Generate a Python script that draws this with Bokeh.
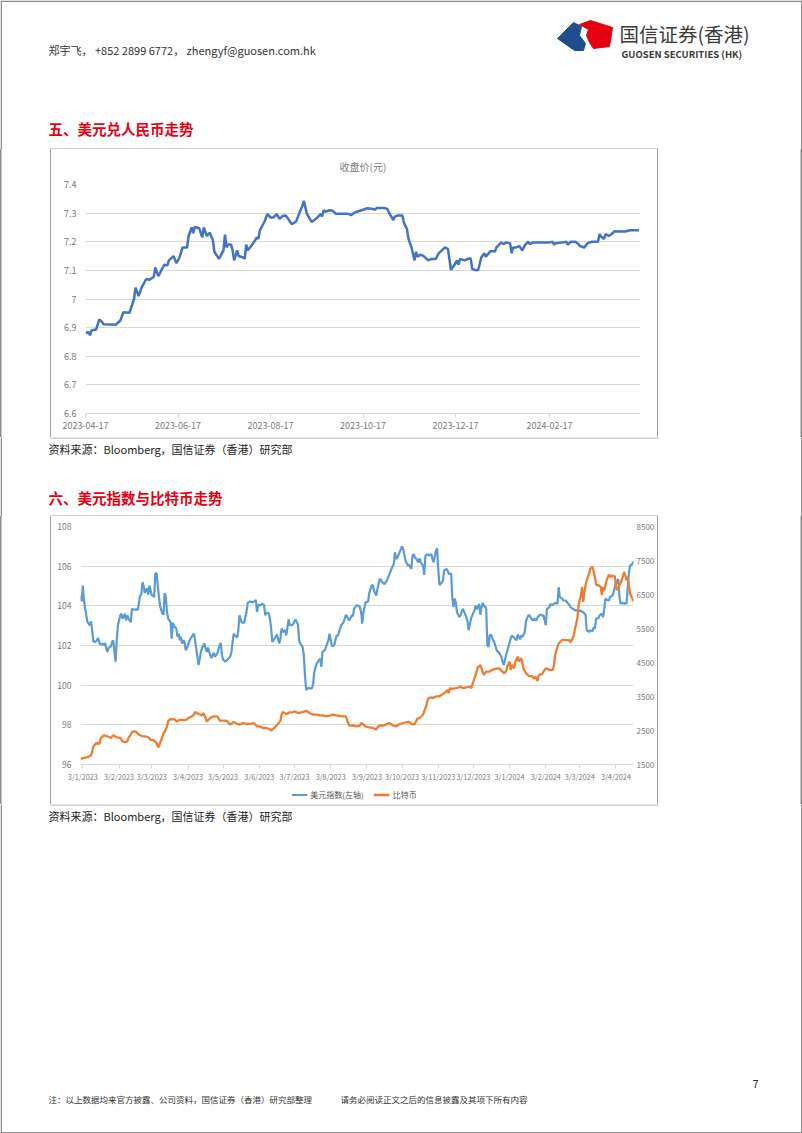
import pandas as pd
from datetime import datetime
from bokeh.plotting import figure
from bokeh.models import Range1d, FixedTicker, LinearAxis, Legend, LegendItem, Spacer
from bokeh.layouts import column, row
from bokeh.core.properties import value
from bokeh.embed import file_html
from bokeh.resources import INLINE

CJK = "Noto Sans CJK SC"

# ---------------- data: USD/CNY close ----------------
cny_dates = [
    "2023-04-17", "2023-04-19", "2023-04-20", "2023-04-21", "2023-04-23", "2023-04-24", "2023-04-26", "2023-04-27", "2023-04-29", "2023-05-07",
    "2023-05-10", "2023-05-12", "2023-05-16", "2023-05-19", "2023-05-20", "2023-05-22", "2023-05-24", "2023-05-27", "2023-05-29", "2023-06-01",
    "2023-06-02", "2023-06-04", "2023-06-06", "2023-06-08", "2023-06-10", "2023-06-11", "2023-06-14", "2023-06-16", "2023-06-18", "2023-06-20",
    "2023-06-23", "2023-06-24", "2023-06-26", "2023-06-27", "2023-06-28", "2023-07-01", "2023-07-03", "2023-07-04", "2023-07-06", "2023-07-08",
    "2023-07-10", "2023-07-11", "2023-07-14", "2023-07-17", "2023-07-18", "2023-07-19", "2023-07-20", "2023-07-22", "2023-07-23", "2023-07-24",
    "2023-07-26", "2023-07-27", "2023-07-30", "2023-07-31", "2023-08-01", "2023-08-02", "2023-08-05", "2023-08-08", "2023-08-09", "2023-08-10",
    "2023-08-13", "2023-08-15", "2023-08-17", "2023-08-19", "2023-08-21", "2023-08-23", "2023-08-25", "2023-08-27", "2023-08-28", "2023-08-31",
    "2023-09-01", "2023-09-03", "2023-09-05", "2023-09-07", "2023-09-08", "2023-09-09", "2023-09-10", "2023-09-13", "2023-09-14", "2023-09-17",
    "2023-09-19", "2023-09-20", "2023-09-21", "2023-09-22", "2023-09-25", "2023-09-27", "2023-09-29", "2023-10-05", "2023-10-08", "2023-10-09",
    "2023-10-12", "2023-10-16", "2023-10-20", "2023-10-23", "2023-10-25", "2023-10-26", "2023-10-31", "2023-11-02", "2023-11-03", "2023-11-05",
    "2023-11-06", "2023-11-07", "2023-11-09", "2023-11-12", "2023-11-13", "2023-11-15", "2023-11-16", "2023-11-18", "2023-11-20", "2023-11-21",
    "2023-11-22", "2023-11-24", "2023-11-26", "2023-11-29", "2023-12-01", "2023-12-04", "2023-12-06", "2023-12-08", "2023-12-10", "2023-12-12",
    "2023-12-14", "2023-12-16", "2023-12-18", "2023-12-19", "2023-12-20", "2023-12-23", "2023-12-25", "2023-12-27", "2023-12-28", "2023-12-31",
    "2024-01-01", "2024-01-03", "2024-01-05", "2024-01-06", "2024-01-08", "2024-01-09", "2024-01-12", "2024-01-13", "2024-01-16", "2024-01-18",
    "2024-01-19", "2024-01-22", "2024-01-23", "2024-01-24", "2024-01-26", "2024-01-28", "2024-01-30", "2024-02-01", "2024-02-03", "2024-02-04",
    "2024-02-06", "2024-02-11", "2024-02-16", "2024-02-19", "2024-02-20", "2024-02-21", "2024-02-25", "2024-02-28", "2024-02-29", "2024-03-02",
    "2024-03-05", "2024-03-07", "2024-03-08", "2024-03-11", "2024-03-13", "2024-03-16", "2024-03-20", "2024-03-21", "2024-03-22", "2024-03-24",
    "2024-03-25", "2024-03-27", "2024-03-29", "2024-03-31", "2024-04-04", "2024-04-07", "2024-04-10", "2024-04-16",
]
cny_close = [
    6.880, 6.885, 6.873, 6.890, 6.893, 6.893, 6.928, 6.925, 6.912, 6.910,
    6.925, 6.954, 6.952, 7.000, 7.040, 7.010, 7.040, 7.070, 7.067, 7.077,
    7.110, 7.080, 7.100, 7.120, 7.117, 7.135, 7.150, 7.125, 7.145, 7.180,
    7.180, 7.220, 7.250, 7.230, 7.252, 7.247, 7.215, 7.250, 7.220, 7.232,
    7.205, 7.165, 7.140, 7.170, 7.225, 7.180, 7.190, 7.190, 7.170, 7.135,
    7.170, 7.150, 7.145, 7.140, 7.190, 7.170, 7.190, 7.215, 7.210, 7.240,
    7.270, 7.297, 7.285, 7.285, 7.297, 7.280, 7.290, 7.292, 7.285, 7.262,
    7.264, 7.272, 7.300, 7.325, 7.343, 7.320, 7.297, 7.270, 7.272, 7.285,
    7.297, 7.288, 7.310, 7.305, 7.310, 7.308, 7.298, 7.298, 7.297, 7.293,
    7.303, 7.310, 7.317, 7.315, 7.312, 7.318, 7.318, 7.315, 7.303, 7.285,
    7.276, 7.288, 7.292, 7.292, 7.266, 7.244, 7.210, 7.180, 7.135, 7.165,
    7.148, 7.155, 7.150, 7.135, 7.140, 7.140, 7.160, 7.170, 7.180, 7.175,
    7.102, 7.117, 7.135, 7.120, 7.140, 7.135, 7.140, 7.142, 7.105, 7.100,
    7.102, 7.145, 7.160, 7.148, 7.160, 7.168, 7.166, 7.180, 7.197, 7.192,
    7.197, 7.195, 7.160, 7.180, 7.180, 7.185, 7.170, 7.190, 7.200, 7.192,
    7.197, 7.197, 7.197, 7.200, 7.190, 7.195, 7.197, 7.200, 7.190, 7.200,
    7.200, 7.192, 7.185, 7.180, 7.195, 7.200, 7.200, 7.227, 7.218, 7.210,
    7.227, 7.220, 7.227, 7.237, 7.236, 7.236, 7.240, 7.240,
]
cny_tick_dates = ["2023-04-17", "2023-06-17", "2023-08-17", "2023-10-17", "2023-12-17", "2024-02-17"]
cny_tick_labels = ["2023-04-17", "2023-06-17", "2023-08-17", "2023-10-17", "2023-12-17", "2024-02-17"]
cny_y_ticks = [6.6, 6.7, 6.8, 6.9, 7.0, 7.1, 7.2, 7.3, 7.4]
cny_y_labels = ["6.6", "6.7", "6.8", "6.9", "7", "7.1", "7.2", "7.3", "7.4"]

# ---------------- data: US dollar index ----------------
dxy_dates = [
    "2023-01-01", "2023-01-02", "2023-01-03", "2023-01-04", "2023-01-05", "2023-01-06", "2023-01-07", "2023-01-09", "2023-01-10", "2023-01-11",
    "2023-01-12", "2023-01-14", "2023-01-15", "2023-01-16", "2023-01-17", "2023-01-18", "2023-01-20", "2023-01-21", "2023-01-22", "2023-01-23",
    "2023-01-24", "2023-01-25", "2023-01-27", "2023-01-28", "2023-01-29", "2023-01-31", "2023-02-01", "2023-02-02", "2023-02-04", "2023-02-05",
    "2023-02-06", "2023-02-08", "2023-02-09", "2023-02-10", "2023-02-11", "2023-02-13", "2023-02-14", "2023-02-16", "2023-02-18", "2023-02-19",
    "2023-02-21", "2023-02-22", "2023-02-23", "2023-02-24", "2023-02-25", "2023-02-27", "2023-02-28", "2023-03-01", "2023-03-03", "2023-03-04",
    "2023-03-05", "2023-03-06", "2023-03-07", "2023-03-09", "2023-03-10", "2023-03-12", "2023-03-13", "2023-03-14", "2023-03-15", "2023-03-16",
    "2023-03-17", "2023-03-19", "2023-03-20", "2023-03-21", "2023-03-22", "2023-03-24", "2023-03-25", "2023-03-26", "2023-03-27", "2023-03-28",
    "2023-03-29", "2023-03-30", "2023-03-31", "2023-04-01", "2023-04-03", "2023-04-04", "2023-04-05", "2023-04-08", "2023-04-09", "2023-04-11",
    "2023-04-12", "2023-04-14", "2023-04-15", "2023-04-17", "2023-04-18", "2023-04-19", "2023-04-20", "2023-04-22", "2023-04-23", "2023-04-25",
    "2023-04-26", "2023-04-28", "2023-04-30", "2023-05-01", "2023-05-02", "2023-05-03", "2023-05-05", "2023-05-07", "2023-05-09", "2023-05-10",
    "2023-05-12", "2023-05-13", "2023-05-15", "2023-05-16", "2023-05-17", "2023-05-19", "2023-05-21", "2023-05-23", "2023-05-24", "2023-05-26",
    "2023-05-28", "2023-05-30", "2023-05-31", "2023-06-01", "2023-06-02", "2023-06-04", "2023-06-05", "2023-06-07", "2023-06-08", "2023-06-09",
    "2023-06-11", "2023-06-12", "2023-06-13", "2023-06-14", "2023-06-15", "2023-06-17", "2023-06-18", "2023-06-20", "2023-06-21", "2023-06-22",
    "2023-06-23", "2023-06-25", "2023-06-26", "2023-06-28", "2023-06-29", "2023-07-01", "2023-07-02", "2023-07-04", "2023-07-06", "2023-07-07",
    "2023-07-08", "2023-07-10", "2023-07-11", "2023-07-12", "2023-07-13", "2023-07-15", "2023-07-16", "2023-07-18", "2023-07-19", "2023-07-20",
    "2023-07-22", "2023-07-24", "2023-07-25", "2023-07-26", "2023-07-27", "2023-07-29", "2023-07-30", "2023-08-01", "2023-08-02", "2023-08-04",
    "2023-08-05", "2023-08-06", "2023-08-08", "2023-08-09", "2023-08-11", "2023-08-12", "2023-08-14", "2023-08-15", "2023-08-16", "2023-08-18",
    "2023-08-19", "2023-08-21", "2023-08-22", "2023-08-23", "2023-08-25", "2023-08-26", "2023-08-28", "2023-08-29", "2023-08-30", "2023-08-31",
    "2023-09-02", "2023-09-04", "2023-09-05", "2023-09-07", "2023-09-08", "2023-09-09", "2023-09-11", "2023-09-12", "2023-09-14", "2023-09-15",
    "2023-09-16", "2023-09-18", "2023-09-20", "2023-09-22", "2023-09-24", "2023-09-26", "2023-09-27", "2023-09-28", "2023-09-29", "2023-10-01",
    "2023-10-02", "2023-10-03", "2023-10-04", "2023-10-06", "2023-10-08", "2023-10-09", "2023-10-11", "2023-10-12", "2023-10-13", "2023-10-14",
    "2023-10-15", "2023-10-17", "2023-10-18", "2023-10-19", "2023-10-21", "2023-10-22", "2023-10-23", "2023-10-25", "2023-10-26", "2023-10-28",
    "2023-10-29", "2023-10-30", "2023-10-31", "2023-11-01", "2023-11-02", "2023-11-03", "2023-11-04", "2023-11-05", "2023-11-07", "2023-11-08",
    "2023-11-10", "2023-11-11", "2023-11-12", "2023-11-14", "2023-11-15", "2023-11-16", "2023-11-17", "2023-11-18", "2023-11-19", "2023-11-21",
    "2023-11-22", "2023-11-24", "2023-11-25", "2023-11-27", "2023-11-28", "2023-11-29", "2023-12-01", "2023-12-02", "2023-12-04", "2023-12-05",
    "2023-12-06", "2023-12-08", "2023-12-09", "2023-12-10", "2023-12-11", "2023-12-12", "2023-12-14", "2023-12-15", "2023-12-16", "2023-12-17",
    "2023-12-18", "2023-12-20", "2023-12-21", "2023-12-23", "2023-12-24", "2023-12-25", "2023-12-27", "2023-12-28", "2023-12-29", "2023-12-31",
    "2024-01-02", "2024-01-04", "2024-01-05", "2024-01-07", "2024-01-09", "2024-01-10", "2024-01-12", "2024-01-13", "2024-01-14", "2024-01-16",
    "2024-01-17", "2024-01-19", "2024-01-20", "2024-01-22", "2024-01-23", "2024-01-24", "2024-01-26", "2024-01-27", "2024-01-29", "2024-01-30",
    "2024-01-31", "2024-02-01", "2024-02-03", "2024-02-04", "2024-02-06", "2024-02-07", "2024-02-08", "2024-02-10", "2024-02-11", "2024-02-13",
    "2024-02-14", "2024-02-15", "2024-02-17", "2024-02-18", "2024-02-20", "2024-02-21", "2024-02-23", "2024-02-24", "2024-02-25", "2024-02-27",
    "2024-02-28", "2024-03-01", "2024-03-02", "2024-03-04", "2024-03-05", "2024-03-06", "2024-03-08", "2024-03-09", "2024-03-11", "2024-03-12",
    "2024-03-14", "2024-03-15", "2024-03-16", "2024-03-17", "2024-03-19", "2024-03-20", "2024-03-22", "2024-03-23", "2024-03-24", "2024-03-25",
    "2024-03-26", "2024-03-28", "2024-03-29", "2024-03-31", "2024-04-01", "2024-04-02", "2024-04-04", "2024-04-05", "2024-04-06", "2024-04-07",
    "2024-04-08", "2024-04-10", "2024-04-11", "2024-04-12", "2024-04-14", "2024-04-15", "2024-04-17", "2024-04-18",
]
dxy_values = [
    104.52, 104.22, 105.02, 104.27, 103.85, 103.52, 103.18, 103.02, 103.22, 102.77,
    102.21, 102.18, 102.26, 102.38, 102.18, 102.05, 102.10, 102.01, 102.13, 101.85,
    101.68, 101.88, 101.96, 102.18, 102.26, 101.18, 102.26, 103.02, 103.52, 103.60,
    103.35, 103.60, 103.27, 103.52, 103.35, 103.18, 103.85, 103.80, 103.82, 103.80,
    104.52, 104.57, 105.19, 105.02, 104.65, 104.89, 104.56, 105.02, 104.52, 104.52,
    104.44, 105.61, 105.66, 104.52, 104.02, 103.60, 103.55, 104.65, 104.44, 103.69,
    103.35, 103.18, 102.35, 103.15, 102.97, 102.85, 102.43, 102.60, 102.26, 102.43,
    102.10, 102.26, 102.18, 101.76, 102.01, 102.21, 102.35, 102.60, 102.26, 101.43,
    101.01, 101.68, 101.88, 102.10, 101.85, 101.68, 101.90, 101.51, 101.37, 101.64,
    101.43, 101.60, 102.01, 102.13, 101.51, 101.29, 101.18, 101.31, 101.43, 101.64,
    102.60, 102.51, 102.40, 102.77, 103.52, 103.15, 103.15, 103.69, 104.15, 104.22,
    104.19, 104.22, 104.30, 103.69, 104.05, 104.02, 104.10, 104.05, 103.52, 103.63,
    103.63, 103.35, 102.93, 102.18, 102.26, 102.43, 102.55, 102.10, 102.38, 102.85,
    102.68, 102.77, 102.51, 103.32, 103.02, 103.02, 103.10, 103.32, 103.05, 102.26,
    102.10, 101.93, 101.51, 100.51, 99.76, 99.87, 99.84, 99.84, 100.09, 100.68,
    101.09, 101.26, 101.34, 100.93, 101.68, 101.76, 101.93, 102.26, 102.60, 101.98,
    101.98, 102.01, 102.51, 102.48, 102.85, 103.02, 103.18, 103.35, 103.55, 103.35,
    103.27, 103.52, 103.49, 103.85, 104.02, 104.02, 103.94, 103.69, 103.10, 103.69,
    104.19, 104.22, 104.65, 105.02, 105.05, 104.77, 104.52, 104.85, 105.36, 105.31,
    105.19, 105.10, 105.27, 105.56, 105.87, 106.11, 106.70, 106.36, 106.44, 106.70,
    106.86, 107.00, 106.86, 106.28, 106.03, 106.07, 105.86, 106.53, 106.61, 106.44,
    106.39, 106.19, 106.39, 106.19, 106.03, 105.56, 106.53, 106.61, 106.53, 106.61,
    106.36, 106.19, 106.49, 106.78, 106.90, 105.86, 105.05, 105.10, 105.27, 105.77,
    105.86, 105.77, 105.61, 105.61, 104.44, 103.94, 104.36, 104.19, 103.69, 103.43,
    103.52, 103.85, 103.72, 103.43, 103.22, 102.77, 103.35, 103.52, 103.77, 104.02,
    103.82, 104.10, 103.55, 103.89, 104.15, 104.02, 103.89, 102.01, 101.93, 102.51,
    102.55, 102.26, 102.15, 101.76, 101.68, 101.64, 101.43, 101.18, 101.01, 101.51,
    101.93, 102.35, 102.51, 102.38, 102.26, 102.55, 102.31, 102.51, 102.43, 102.68,
    103.22, 103.52, 103.52, 103.32, 103.27, 103.35, 103.27, 103.43, 103.55, 103.55,
    103.49, 103.52, 103.02, 103.85, 103.94, 104.10, 104.02, 104.10, 104.15, 104.10,
    104.94, 104.44, 104.36, 104.27, 104.27, 104.19, 104.05, 103.94, 103.89, 103.82,
    103.77, 103.77, 103.72, 103.77, 103.69, 103.69, 103.55, 102.77, 102.68, 102.77,
    102.72, 102.93, 102.85, 103.35, 103.38, 103.52, 103.60, 103.43, 103.85, 104.36,
    104.31, 104.27, 104.44, 104.52, 104.69, 104.94, 105.27, 105.35, 104.44, 104.10,
    104.15, 104.10, 104.15, 104.10, 105.61, 106.03, 106.11, 106.23,
]

# ---------------- data: Bitcoin (right axis) ----------------
btc_dates = [
    "2023-01-01", "2023-01-04", "2023-01-07", "2023-01-10", "2023-01-11", "2023-01-12", "2023-01-14", "2023-01-15", "2023-01-17", "2023-01-18",
    "2023-01-19", "2023-01-21", "2023-01-24", "2023-01-27", "2023-01-29", "2023-02-01", "2023-02-04", "2023-02-06", "2023-02-08", "2023-02-10",
    "2023-02-11", "2023-02-13", "2023-02-14", "2023-02-17", "2023-02-20", "2023-02-23", "2023-02-25", "2023-02-28", "2023-03-02", "2023-03-05",
    "2023-03-07", "2023-03-08", "2023-03-09", "2023-03-10", "2023-03-12", "2023-03-13", "2023-03-14", "2023-03-16", "2023-03-17", "2023-03-19",
    "2023-03-20", "2023-03-22", "2023-03-24", "2023-03-27", "2023-03-30", "2023-04-02", "2023-04-03", "2023-04-06", "2023-04-08", "2023-04-09",
    "2023-04-12", "2023-04-15", "2023-04-16", "2023-04-18", "2023-04-19", "2023-04-22", "2023-04-25", "2023-04-28", "2023-04-29", "2023-04-30",
    "2023-05-03", "2023-05-06", "2023-05-09", "2023-05-12", "2023-05-15", "2023-05-17", "2023-05-20", "2023-05-23", "2023-05-26", "2023-05-29",
    "2023-06-01", "2023-06-03", "2023-06-06", "2023-06-09", "2023-06-12", "2023-06-13", "2023-06-15", "2023-06-18", "2023-06-21", "2023-06-22",
    "2023-06-23", "2023-06-26", "2023-06-29", "2023-07-02", "2023-07-03", "2023-07-06", "2023-07-09", "2023-07-12", "2023-07-13", "2023-07-16",
    "2023-07-19", "2023-07-22", "2023-07-25", "2023-07-27", "2023-07-30", "2023-08-02", "2023-08-05", "2023-08-08", "2023-08-11", "2023-08-14",
    "2023-08-16", "2023-08-18", "2023-08-19", "2023-08-22", "2023-08-25", "2023-08-28", "2023-08-29", "2023-08-31", "2023-09-02", "2023-09-05",
    "2023-09-08", "2023-09-11", "2023-09-12", "2023-09-14", "2023-09-17", "2023-09-19", "2023-09-22", "2023-09-25", "2023-09-28", "2023-10-01",
    "2023-10-04", "2023-10-07", "2023-10-09", "2023-10-12", "2023-10-14", "2023-10-15", "2023-10-16", "2023-10-18", "2023-10-21", "2023-10-22",
    "2023-10-24", "2023-10-25", "2023-10-26", "2023-10-28", "2023-10-29", "2023-11-01", "2023-11-04", "2023-11-05", "2023-11-07", "2023-11-10",
    "2023-11-11", "2023-11-12", "2023-11-13", "2023-11-15", "2023-11-18", "2023-11-21", "2023-11-22", "2023-11-24", "2023-11-27", "2023-11-30",
    "2023-12-01", "2023-12-02", "2023-12-04", "2023-12-05", "2023-12-07", "2023-12-08", "2023-12-09", "2023-12-11", "2023-12-12", "2023-12-14",
    "2023-12-17", "2023-12-19", "2023-12-22", "2023-12-25", "2023-12-28", "2023-12-29", "2023-12-31", "2024-01-01", "2024-01-03", "2024-01-04",
    "2024-01-05", "2024-01-07", "2024-01-08", "2024-01-10", "2024-01-11", "2024-01-13", "2024-01-14", "2024-01-15", "2024-01-17", "2024-01-18",
    "2024-01-20", "2024-01-22", "2024-01-24", "2024-01-25", "2024-01-27", "2024-01-28", "2024-01-31", "2024-02-01", "2024-02-03", "2024-02-06",
    "2024-02-09", "2024-02-10", "2024-02-11", "2024-02-13", "2024-02-14", "2024-02-17", "2024-02-20", "2024-02-23", "2024-02-24", "2024-02-26",
    "2024-02-27", "2024-02-28", "2024-03-01", "2024-03-02", "2024-03-04", "2024-03-05", "2024-03-06", "2024-03-07", "2024-03-08", "2024-03-09",
    "2024-03-11", "2024-03-12", "2024-03-14", "2024-03-15", "2024-03-16", "2024-03-17", "2024-03-18", "2024-03-19", "2024-03-21", "2024-03-22",
    "2024-03-23", "2024-03-24", "2024-03-25", "2024-03-26", "2024-03-28", "2024-03-29", "2024-03-31", "2024-04-01", "2024-04-02", "2024-04-03",
    "2024-04-04", "2024-04-06", "2024-04-08", "2024-04-10", "2024-04-11", "2024-04-12", "2024-04-13", "2024-04-14", "2024-04-15", "2024-04-17",
    "2024-04-18",
]
btc_values = [
    1666, 1695, 1715, 1773, 1871, 2037, 2105, 2135, 2105, 2232,
    2301, 2359, 2330, 2281, 2359, 2301, 2281, 2183, 2154, 2183,
    2281, 2379, 2457, 2476, 2379, 2330, 2330, 2301, 2232, 2203,
    2135, 2037, 2017, 2135, 2301, 2427, 2457, 2623, 2769, 2847,
    2818, 2847, 2769, 2818, 2808, 2818, 2867, 2906, 2964, 3043,
    2984, 2945, 3013, 2867, 2769, 2867, 2916, 2916, 2867, 2789,
    2789, 2789, 2672, 2750, 2701, 2672, 2720, 2691, 2691, 2720,
    2623, 2623, 2574, 2574, 2535, 2496, 2554, 2652, 2789, 2964,
    3043, 2984, 3033, 3043, 3062, 3013, 3033, 3062, 3082, 3013,
    2964, 2964, 2945, 2945, 2916, 2935, 2964, 2945, 2925, 2916,
    2916, 2720, 2642, 2652, 2623, 2642, 2720, 2672, 2613, 2593,
    2574, 2525, 2593, 2652, 2642, 2672, 2720, 2652, 2623, 2691,
    2720, 2750, 2750, 2672, 2691, 2769, 2847, 2867, 2964, 3062,
    3257, 3404, 3453, 3472, 3453, 3501, 3501, 3531, 3570, 3648,
    3697, 3599, 3745, 3726, 3745, 3765, 3794, 3745, 3765, 3794,
    3745, 3824, 4038, 4136, 4380, 4380, 4429, 4234, 4136, 4234,
    4234, 4282, 4312, 4331, 4234, 4185, 4234, 4380, 4527, 4282,
    4429, 4331, 4527, 4673, 4527, 4624, 4478, 4312, 4185, 4156,
    4087, 4107, 4019, 4087, 3960, 4136, 4156, 4234, 4331, 4282,
    4282, 4429, 4722, 4966, 5064, 5161, 5161, 5161, 5093, 5210,
    5308, 5503, 5796, 6186, 6479, 6723, 6284, 6577, 6772, 6918,
    7114, 7260, 7309, 7163, 7016, 6791, 6772, 6772, 6723, 6479,
    6723, 6626, 6772, 6918, 7085, 7016, 7065, 7016, 7045, 6723,
    6626, 6772, 6918, 7163, 7065, 6918, 7016, 6772, 6528, 6381,
    6303,
]
dxy_tick_dates = [
    "2023-01-03", "2023-02-03", "2023-03-03", "2023-04-03", "2023-05-03", "2023-06-03", "2023-07-03", "2023-08-03",
    "2023-09-03", "2023-10-03", "2023-11-03", "2023-12-03", "2024-01-03", "2024-02-03", "2024-03-03", "2024-04-03",
]
dxy_tick_labels = [
    "3/1/2023", "3/2/2023", "3/3/2023", "3/4/2023", "3/5/2023", "3/6/2023", "3/7/2023", "3/8/2023",
    "3/9/2023", "3/10/2023", "3/11/2023", "3/12/2023", "3/1/2024", "3/2/2024", "3/3/2024", "3/4/2024",
]
dxy_y_ticks = [96, 98, 100, 102, 104, 106, 108]
btc_y_ticks = [1500, 2500, 3500, 4500, 5500, 6500, 7500, 8500]
series_names = ["美元指数(左轴)", "比特币"]
series_colors = ["#5b9bd5", "#ed7d31"]

# ---------------- helpers ----------------
PAGE_BORDER = "#8c8c8c"
FRAME = "#9f9f9f"
AXIS_TXT = "#7a7a7a"
GRID = "#d9d9d9"
NAN = float("nan")


def ms(d):
    return int(pd.Timestamp(d).value // 10**6)


def pixfig(w, h):
    f = figure(width=w, height=h, x_range=Range1d(0, w), y_range=Range1d(h, 0),
               x_axis_type=None, y_axis_type=None, min_border=0,
               toolbar_location=None, output_backend="svg")
    f.outline_line_color = None
    f.background_fill_color = "white"
    f.border_fill_color = "white"
    return f


def txt(f, x, y, s, size, color="#222222", bold=False, align="left"):
    f.text(x=[x], y=[y], text=[s], text_font=value(CJK), text_font_size=size,
           text_color=color, text_font_style="bold" if bold else "normal",
           text_baseline="middle", text_align=align)


def seg(f, x0, y0, x1, y1, color, width=1.0):
    f.segment(x0=[x0], y0=[y0], x1=[x1], y1=[y1], line_color=color, line_width=width)


def side_borders(f, w, h):
    seg(f, 0.75, 0, 0.75, h, PAGE_BORDER, 1.5)
    seg(f, w - 0.75, 0, w - 0.75, h, PAGE_BORDER, 1.5)


def pads(h):
    lp = Spacer(width=51, height=h, margin=0,
                styles={"background": "white",
                        "box-shadow": f"inset 1.5px 0 0 {PAGE_BORDER}, inset -1px 0 0 {FRAME}"})
    rp = Spacer(width=145, height=h, margin=0,
                styles={"background": "white",
                        "box-shadow": f"inset 1px 0 0 {FRAME}, inset -1.5px 0 0 {PAGE_BORDER}"})
    return lp, rp


def style_axis(ax, size="9px"):
    ax.major_label_text_font = CJK
    ax.major_label_text_font_size = size
    ax.major_label_text_color = AXIS_TXT
    ax.minor_tick_line_color = None


W = 802
# ---------------- header ----------------
header = pixfig(W, 149)
side_borders(header, W, 149)
seg(header, 0, 0.75, W, 0.75, PAGE_BORDER, 1.5)
txt(header, 48, 49, "郑宇飞， +852 2899 6772， zhengyf@guosen.com.hk", "11px", "#333333")
header.patch([557, 573, 581, 579, 585, 583, 574], [38, 22, 26, 35, 43, 50, 50], color="#1f4e8c")
header.patch([579, 590, 612, 609, 593, 589, 586, 588], [24, 20, 27, 46, 48, 42, 35, 29], color="#e60012")
txt(header, 619, 33, "国信证券(香港)", "19.5px", "#3a3a3a")
txt(header, 621, 53, "GUOSEN SECURITIES (HK)", "9.5px", "#3a3a3a", bold=True)
txt(header, 48, 128, "五、美元兑人民币走势", "14.5px", "#e60012", bold=True)
seg(header, 50, 148.5, 658, 148.5, FRAME, 1)

# ---------------- chart 1: USD/CNY ----------------
c1 = figure(width=606, height=288, x_axis_type="datetime",
            x_range=Range1d(datetime(2023, 4, 17), datetime(2024, 4, 17)),
            y_range=Range1d(6.6, 7.4), toolbar_location=None, output_backend="svg",
            min_border_left=34, min_border_right=17, min_border_top=35, min_border_bottom=24,
            title="收盘价(元)")
c1.title.align = "center"
c1.title.vertical_align = "top"
c1.title.text_font = CJK
c1.title.text_font_size = "10px"
c1.title.text_font_style = "normal"
c1.title.text_color = AXIS_TXT
c1.title.standoff = 18
c1.outline_line_color = None
c1.background_fill_color = "white"
c1.border_fill_color = "white"
c1.xgrid.visible = False
yt1 = FixedTicker(ticks=cny_y_ticks)
c1.yaxis.ticker = yt1
c1.ygrid.ticker = yt1
c1.ygrid.grid_line_color = GRID
c1.yaxis.major_label_overrides = dict(zip(cny_y_ticks, cny_y_labels))
c1.yaxis.axis_line_color = None
c1.yaxis.major_tick_line_color = None
c1.yaxis.major_tick_out = 0
c1.yaxis.major_label_standoff = 9
style_axis(c1.yaxis[0])
c1.xaxis.ticker = FixedTicker(ticks=[ms(d) for d in cny_tick_dates])
c1.xaxis.major_label_overrides = {ms(d): lab for d, lab in zip(cny_tick_dates, cny_tick_labels)}
c1.xaxis.axis_line_color = GRID
c1.xaxis.major_tick_line_color = GRID
c1.xaxis.major_tick_in = 0
c1.xaxis.major_tick_out = 4
c1.xaxis.major_label_standoff = 4
style_axis(c1.xaxis[0])
c1.line(pd.to_datetime(cny_dates), cny_close, line_color="#4472c4", line_width=2.5)

# ---------------- middle strip ----------------
mid = pixfig(W, 79)
side_borders(mid, W, 79)
seg(mid, 50, 0.5, 658, 0.5, FRAME, 1)
txt(mid, 48, 11, "资料来源：Bloomberg，国信证券（香港）研究部", "11px", "#222222")
txt(mid, 48, 60, "六、美元指数与比特币走势", "14.5px", "#e60012", bold=True)
seg(mid, 50, 78.5, 658, 78.5, FRAME, 1)

# ---------------- chart 2: DXY & BTC ----------------
c2 = figure(width=606, height=268, x_axis_type="datetime",
            x_range=Range1d(datetime(2023, 1, 1), datetime(2024, 4, 18)),
            y_range=Range1d(96, 108), toolbar_location=None, output_backend="svg",
            min_border_left=29, min_border_right=22, min_border_top=10, min_border_bottom=19)
c2.extra_y_ranges = {"btc": Range1d(1500, 8500)}
c2.outline_line_color = None
c2.background_fill_color = "white"
c2.border_fill_color = "white"
c2.xgrid.visible = False
yt2 = FixedTicker(ticks=dxy_y_ticks)
c2.yaxis.ticker = yt2
c2.ygrid.ticker = yt2
c2.ygrid.grid_line_color = GRID
c2.yaxis.axis_line_color = None
c2.yaxis.major_tick_line_color = None
c2.yaxis.major_tick_out = 0
c2.yaxis.major_label_standoff = 9
style_axis(c2.yaxis[0], "8.5px")
c2.xaxis.ticker = FixedTicker(ticks=[ms(d) for d in dxy_tick_dates])
c2.xaxis.major_label_overrides = {ms(d): lab for d, lab in zip(dxy_tick_dates, dxy_tick_labels)}
c2.xaxis.axis_line_color = GRID
c2.xaxis.major_tick_line_color = GRID
c2.xaxis.major_tick_in = 0
c2.xaxis.major_tick_out = 4
c2.xaxis.major_label_standoff = 3
style_axis(c2.xaxis[0], "7.3px")
ax_r = LinearAxis(y_range_name="btc", ticker=FixedTicker(ticks=btc_y_ticks))
ax_r.axis_line_color = None
ax_r.major_tick_line_color = None
ax_r.major_tick_out = 0
ax_r.major_tick_in = 0
ax_r.major_label_standoff = 3
style_axis(ax_r, "8px")
c2.add_layout(ax_r, "right")

c2.line(pd.to_datetime(dxy_dates), dxy_values, line_color=series_colors[0], line_width=2.2)
c2.line(pd.to_datetime(btc_dates), btc_values, line_color=series_colors[1], line_width=2.3,
        y_range_name="btc")

# legend strip under chart 2 (legend keys styled like the two series; no data drawn)
legfig = figure(width=606, height=20, x_range=Range1d(0, 1), y_range=Range1d(0, 1),
                x_axis_type=None, y_axis_type=None, min_border=0,
                toolbar_location=None, output_backend="svg")
legfig.outline_line_color = None
legfig.background_fill_color = "white"
legfig.border_fill_color = "white"
k1 = legfig.line(x=[NAN, NAN], y=[NAN, NAN], line_color=series_colors[0], line_width=2.2)
k2 = legfig.line(x=[NAN, NAN], y=[NAN, NAN], line_color=series_colors[1], line_width=2.3)
leg = Legend(items=[LegendItem(label=value(series_names[0]), renderers=[k1]),
                    LegendItem(label=value(series_names[1]), renderers=[k2])],
             orientation="horizontal", location="center")
leg.border_line_color = None
leg.background_fill_alpha = 0
leg.label_text_font = CJK
leg.label_text_font_size = "8px"
leg.label_text_color = "#595959"
leg.glyph_width = 16
leg.glyph_height = 10
leg.label_height = 10
leg.label_standoff = 3
leg.spacing = 10
leg.padding = 0
leg.margin = 0
legfig.add_layout(leg)

# ---------------- bottom ----------------
bottom = pixfig(W, 329)
side_borders(bottom, W, 329)
seg(bottom, 50, 0.5, 658, 0.5, FRAME, 1)
seg(bottom, 0, 328.25, W, 328.25, PAGE_BORDER, 1.5)
txt(bottom, 48, 11, "资料来源：Bloomberg，国信证券（香港）研究部", "11px", "#222222")
txt(bottom, 48, 294, "注：以上数据均来官方披露、公司资料，国信证券（香港）研究部整理", "8.5px", "#333333")
txt(bottom, 340, 294, "请务必阅读正文之后的信息披露及其项下所有内容", "8.5px", "#333333")
txt(bottom, 752, 279, "7", "11px", "#333333")

lp1, rp1 = pads(288)
lp2, rp2 = pads(268)
lp3, rp3 = pads(20)

page = column(header, row(lp1, c1, rp1), mid, row(lp2, c2, rp2), row(lp3, legfig, rp3), bottom)
open("out.html", "w").write(file_html(page, INLINE))
